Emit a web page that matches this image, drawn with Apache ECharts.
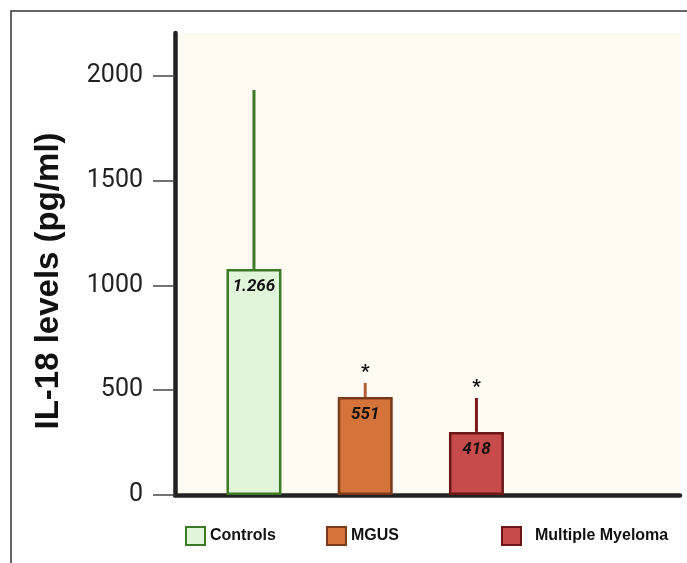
<!DOCTYPE html>
<html>
<head>
<meta charset="utf-8">
<script src="https://cdn.jsdelivr.net/npm/echarts@6/dist/echarts.min.js"></script>
<style>html,body{margin:0;padding:0;background:#fff}#c{width:687px;height:563px}</style>
</head>
<body>
<div id="c"></div>
<script>
const categories = ['Controls', 'MGUS', 'Multiple Myeloma'];
const meanValues = [1079, 468, 301];
const errorTops = [1933, 535, 463];
const valueLabels = ['1.266', '551', '418'];
const sigMarks = ['', '*', '*'];
const yTicks = [0, 500, 1000, 1500, 2000];

const fills = ['#e1f5da', '#d5743a', '#c84b4b'];
const borders = ['#3d7a26', '#7a3a1c', '#6c1717'];
const errColors = ['#3d7a26', '#b0603e', '#7a1a1a'];
const legendLeft = [185, 326, 501];
const legendPrefix = ['', '', '  '];

const chart = echarts.init(document.getElementById('c'), null, {renderer: 'canvas'});

const barSeries = categories.map((name, i) => ({
  type: 'bar',
  name: name,
  data: [[i, meanValues[i]]],
  barWidth: 55,
  barGap: '-100%',
  z: 3,
  itemStyle: {color: fills[i], borderColor: borders[i], borderWidth: 2.5},
  label: {
    show: true, position: 'insideTop', distance: 9,
    formatter: valueLabels[i],
    fontFamily: 'Roboto', fontSize: 17, fontWeight: 'bold', fontStyle: 'italic', color: '#111'
  }
}));

const errSeries = {
  type: 'custom',
  z: 2,
  encode: {x: 0, y: [1, 2]},
  data: categories.map((c, i) => [i, meanValues[i], errorTops[i]]),
  renderItem: function (params, api) {
    const idx = params.dataIndex;
    const x = api.value(0);
    const p0 = api.coord([x, api.value(1)]);
    const p1 = api.coord([x, api.value(2)]);
    return {
      type: 'group',
      children: [
        {type: 'line', shape: {x1: p0[0], y1: p0[1], x2: p1[0], y2: p1[1]},
         style: {stroke: errColors[idx], lineWidth: 3}},
        {type: 'text', x: p1[0], y: p1[1] - 11,
         style: {text: sigMarks[idx], fill: '#111', font: 'bold 19px Roboto', align: 'center', verticalAlign: 'middle'}}
      ]
    };
  }
};

const legends = categories.map((name, i) => ({
  data: [{name: name, icon: 'rect'}],
  left: legendLeft[i],
  top: 526,
  padding: 0,
  itemWidth: 19,
  itemHeight: 18,
  selectedMode: false,
  formatter: (n) => legendPrefix[i] + n,
  textStyle: {fontFamily: 'Liberation Sans', fontWeight: 'bold', fontSize: 16, color: '#111'},
  itemStyle: {borderWidth: 2}
}));

chart.setOption({
  animation: false,
  backgroundColor: '#fff',
  grid: {left: 175, right: 7, top: 33, bottom: 68, show: true, backgroundColor: '#fffbf2', borderWidth: 0},
  legend: legends,
  xAxis: {
    type: 'value', min: -0.71, max: 3.83,
    axisLine: {show: true, onZero: false, lineStyle: {color: '#222', width: 4.5}},
    axisTick: {show: false}, axisLabel: {show: false}, splitLine: {show: false}
  },
  yAxis: {
    type: 'value', min: 0, max: 2205,
    name: 'IL-18 levels (pg/ml)',
    nameLocation: 'middle', nameGap: 110, nameRotate: 90,
    nameTextStyle: {fontFamily: 'Liberation Sans', fontWeight: 'bold', fontSize: 33, color: '#111', padding: [0, 34, 0, 0]},
    axisLine: {show: true, onZero: false, lineStyle: {color: '#222', width: 4.5}},
    axisTick: {show: true, customValues: yTicks, length: 22, lineStyle: {color: '#444', width: 1.5}},
    axisLabel: {show: true, customValues: yTicks, formatter: (v) => String(v), fontFamily: 'Roboto', fontSize: 25, color: '#222', margin: 32},
    splitLine: {show: false}
  },
  graphic: [{
    type: 'rect', silent: true,
    shape: {x: 11, y: 11, width: 720, height: 620},
    style: {fill: null, stroke: '#333', lineWidth: 1.5}
  }],
  series: barSeries.concat([errSeries])
});
</script>
</body>
</html>
